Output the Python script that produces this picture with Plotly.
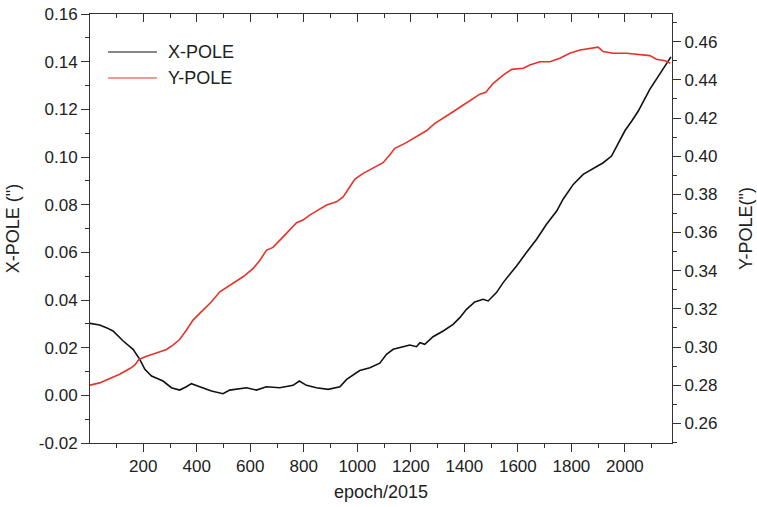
import plotly.graph_objects as go

# ---- data ----
x_pole_epoch = [1, 37, 62, 87, 125, 162, 187, 206, 231, 274, 305, 336, 361, 380, 411, 455,
                498, 523, 586, 623, 660, 710, 760, 783, 810, 847, 891, 935, 960, 1009,
                1047, 1084, 1109, 1134, 1171, 1196, 1221, 1234, 1252, 1283, 1321, 1358,
                1383, 1408, 1439, 1470, 1489, 1520, 1545, 1568, 1595, 1632, 1670, 1707,
                1745, 1769, 1807, 1844, 1882, 1919, 1950, 1975, 2000, 2025, 2050, 2093,
                2131, 2162, 2172]
x_pole = [0.0302, 0.0295, 0.0284, 0.0270, 0.0228, 0.0193, 0.0151, 0.0109, 0.0081, 0.0060,
          0.0032, 0.0022, 0.0036, 0.0049, 0.0036, 0.0018, 0.0007, 0.0022, 0.0032, 0.0022,
          0.0036, 0.0032, 0.0042, 0.0060, 0.0042, 0.0032, 0.0025, 0.0036, 0.0067, 0.0104,
          0.0116, 0.0135, 0.0172, 0.0193, 0.0204, 0.0211, 0.0204, 0.0221, 0.0214, 0.0246,
          0.0270, 0.0298, 0.0326, 0.0361, 0.0392, 0.0403, 0.0396, 0.0431, 0.0473, 0.0505,
          0.0543, 0.0599, 0.0655, 0.0718, 0.0773, 0.0823, 0.0885, 0.0927, 0.0951, 0.0976,
          0.1004, 0.1060, 0.1110, 0.1150, 0.1193, 0.1284, 0.1347, 0.1403, 0.1420]

y_pole_epoch = [1, 37, 75, 112, 150, 168, 184, 212, 249, 287, 311, 336, 361, 386, 411, 455,
                486, 536, 573, 611, 636, 661, 685, 717, 748, 773, 797, 822, 853, 885, 922,
                947, 972, 991, 1022, 1059, 1096, 1121, 1140, 1178, 1203, 1234, 1258, 1290,
                1321, 1358, 1396, 1433, 1458, 1480, 1508, 1545, 1577, 1620, 1645, 1682,
                1720, 1757, 1794, 1832, 1869, 1900, 1919, 1956, 2006, 2056, 2093, 2118,
                2150, 2170]
y_pole = [0.2800, 0.2812, 0.2835, 0.2857, 0.2887, 0.2905, 0.2935, 0.2952, 0.2969, 0.2987,
          0.3010, 0.3039, 0.3088, 0.3141, 0.3176, 0.3237, 0.3289, 0.3333, 0.3368, 0.3412,
          0.3455, 0.3508, 0.3522, 0.3569, 0.3613, 0.3651, 0.3665, 0.3691, 0.3717, 0.3744,
          0.3761, 0.3787, 0.3840, 0.3880, 0.3910, 0.3936, 0.3966, 0.4006, 0.4041, 0.4067,
          0.4088, 0.4116, 0.4133, 0.4172, 0.4198, 0.4233, 0.4268, 0.4303, 0.4325, 0.4335,
          0.4382, 0.4425, 0.4455, 0.4461, 0.4478, 0.4495, 0.4495, 0.4513, 0.4539, 0.4556,
          0.4565, 0.4571, 0.4548, 0.4539, 0.4539, 0.4530, 0.4527, 0.4508, 0.4500, 0.4487]

left_tick_vals = [-0.02, 0.00, 0.02, 0.04, 0.06, 0.08, 0.10, 0.12, 0.14, 0.16]
left_tick_text = ["-0.02", "0.00", "0.02", "0.04", "0.06", "0.08", "0.10", "0.12", "0.14", "0.16"]

series_names = ["X-POLE", "Y-POLE"]
series_colors = ["#111111", "#E5332A"]

FONT = "Liberation Sans, Arial, sans-serif"
AX = "#333333"

fig = go.Figure()
fig.add_trace(go.Scatter(x=x_pole_epoch, y=x_pole, mode="lines", name=series_names[0],
                         line=dict(color=series_colors[0], width=1.6), yaxis="y",
                         showlegend=False))
fig.add_trace(go.Scatter(x=y_pole_epoch, y=y_pole, mode="lines", name=series_names[1],
                         line=dict(color=series_colors[1], width=1.6), yaxis="y2",
                         showlegend=False))

# manual legend (line samples + labels)
legend_y = [0.9114, 0.8508]
for name, col, ly in zip(series_names, series_colors, legend_y):
    fig.add_shape(type="line", xref="paper", yref="paper", x0=0.031, x1=0.115, y0=ly, y1=ly,
                  line=dict(color=col, width=1.2))
    fig.add_annotation(xref="paper", yref="paper", x=0.131, y=ly, text=name, showarrow=False,
                       xanchor="left", yanchor="middle", font=dict(size=18, color="#222"))

tick_common = dict(showgrid=False, zeroline=False, showline=True, linecolor=AX, linewidth=1,
                   ticks="outside", ticklen=8, tickwidth=1, tickcolor=AX, automargin=False,
                   tickfont=dict(size=17, color="#222", family=FONT))

fig.update_layout(
    width=757, height=507,
    margin=dict(l=90, r=85, t=14, b=64, autoexpand=False),
    paper_bgcolor="white", plot_bgcolor="white",
    font=dict(family=FONT, color="#222"),
    xaxis=dict(range=[1, 2176], dtick=200, tick0=0,
               minor=dict(dtick=100, ticklen=4, ticks="outside", tickcolor=AX, showgrid=False),
               title=dict(text="epoch/2015", font=dict(size=18), standoff=9),
               **tick_common),
    xaxis2=dict(range=[1, 2176], overlaying="x", side="top", anchor="y", matches="x",
                showgrid=False, zeroline=False, showline=True, linecolor=AX, automargin=False,
                ticks="inside", ticklen=8, tickcolor=AX, dtick=200, tick0=0,
                minor=dict(dtick=100, ticklen=4, ticks="inside", tickcolor=AX, showgrid=False),
                showticklabels=False),
    yaxis=dict(range=[-0.02, 0.16], tickmode="array", tickvals=left_tick_vals,
               ticktext=left_tick_text,
               minor=dict(dtick=0.01, ticklen=4, ticks="outside", tickcolor=AX, showgrid=False),
               title=dict(text="X-POLE (\")", font=dict(size=18), standoff=14),
               **tick_common),
    yaxis2=dict(range=[0.2497, 0.4745], dtick=0.02, tick0=0.26, tickformat=".2f",
                overlaying="y", side="right", anchor="x",
                minor=dict(dtick=0.01, ticklen=4, ticks="outside", tickcolor=AX, showgrid=False),
                title=dict(text="Y-POLE(\")", font=dict(size=18), standoff=22),
                **tick_common),
)
# empty helper trace so the top mirror axis is drawn
fig.add_trace(go.Scatter(x=[], y=[], xaxis="x2", yaxis="y", showlegend=False, hoverinfo="skip"))

fig.write_html("out.html")
